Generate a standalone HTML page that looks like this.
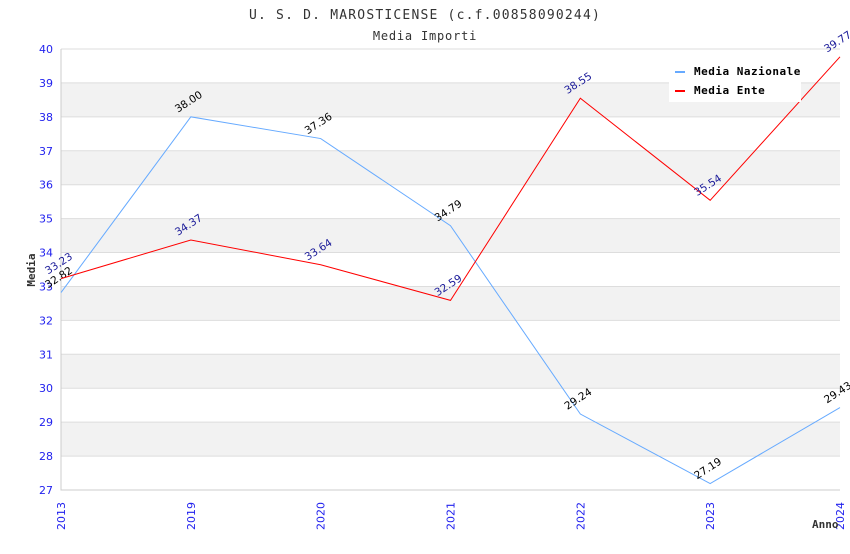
<!DOCTYPE html>
<html><head><meta charset="utf-8"><style>
body{margin:0;background:#fff;font-family:"DejaVu Sans Mono","Liberation Mono",monospace}
svg text{font-family:"DejaVu Sans","Liberation Sans",sans-serif}
</style></head><body>
<svg width="850" height="550" xmlns="http://www.w3.org/2000/svg">
<g id="bands"></g>
<g id="grid"></g>
<g id="axes"></g>
<g id="series"></g>
<text x="425" y="19" text-anchor="middle" font-size="13" fill="#333" letter-spacing="1.2" style="font-family:'DejaVu Sans Mono',monospace">U. S. D. MAROSTICENSE (c.f.00858090244)</text>
<text x="425" y="40" text-anchor="middle" font-size="12" fill="#333" letter-spacing="0.8" style="font-family:'DejaVu Sans Mono',monospace">Media Importi</text>
<text x="0" y="0" transform="translate(35,270) rotate(-90)" text-anchor="middle" font-size="11" font-weight="bold" fill="#333" style="font-family:'DejaVu Sans Mono',monospace">Media</text>
<text x="812" y="528" font-size="11" font-weight="bold" fill="#333" style="font-family:'DejaVu Sans Mono',monospace">Anno</text>
<g>
<rect x="669" y="60" width="132" height="42" fill="#fff"/>
<rect x="675" y="71" width="10" height="2" fill="#66aaff"/>
<text x="694" y="75" font-size="11" font-weight="bold" fill="#000" letter-spacing="0.5" style="font-family:'DejaVu Sans Mono',monospace">Media Nazionale</text>
<rect x="675" y="90" width="10" height="2" fill="#ff0000"/>
<text x="694" y="94" font-size="11" font-weight="bold" fill="#000" letter-spacing="0.5" style="font-family:'DejaVu Sans Mono',monospace">Media Ente</text>
</g>
</svg>
<script>
const categories=["2013","2019","2020","2021","2022","2023","2024"];
const nazionale=[32.82,38.00,37.36,34.79,29.24,27.19,29.43];
const ente=[33.23,34.37,33.64,32.59,38.55,35.54,39.77];
const yTicks=[27,28,29,30,31,32,33,34,35,36,37,38,39,40];
const NS="http://www.w3.org/2000/svg";
const X0=61,X1=840,Y0=490,Y1=49,YMIN=27,YMAX=40;
const xs=i=>X0+(X1-X0)*i/(categories.length-1);
const ys=v=>Y0-(v-YMIN)/(YMAX-YMIN)*(Y0-Y1);
function mk(tag,attrs,parent){const e=document.createElementNS(NS,tag);for(const k in attrs)e.setAttribute(k,attrs[k]);document.getElementById(parent).appendChild(e);return e;}
for(let i=0;i<yTicks.length-1;i++){if(yTicks[i]%2===0){
const r=mk('rect',{x:X0,y:ys(yTicks[i]+1),width:X1-X0,height:ys(yTicks[i])-ys(yTicks[i]+1),fill:'#f2f2f2'},'bands');

}}
yTicks.forEach(t=>{
const l=mk('line',{x1:X0,x2:X1,y1:ys(t),y2:ys(t),stroke:'#dddddd'},'grid');


const tx=mk('text',{x:X0-8,y:ys(t)+4,'text-anchor':'end','font-size':11,fill:'#2222ee'},'axes');
tx.textContent=t;

});
const ax=mk('path',{d:`M${X0} ${Y1}V${Y0}H${X1}`,stroke:'#cccccc',fill:'none'},'axes');


categories.forEach((c,i)=>{
const tx=mk('text',{transform:`translate(${xs(i)+4},530) rotate(-90)`,'font-size':11,fill:'#2222ee'},'axes');
tx.textContent=c;

});
function series(arr,color,lab,name){
const p=mk('polyline',{points:arr.map((v,i)=>xs(i)+','+ys(v)).join(' '),fill:'none',stroke:color,'stroke-width':1},'series');


arr.forEach((v,i)=>{
const t=mk('text',{transform:`translate(${xs(i)-13},${ys(v)-4}) rotate(-33)`,'font-size':10.5,fill:lab},'series');
t.textContent=v.toFixed(2);

});}
series(nazionale,'#66aaff','#000','nazionale');
series(ente,'#ff0000','#1a1a99','ente');
</script>
</body></html>
